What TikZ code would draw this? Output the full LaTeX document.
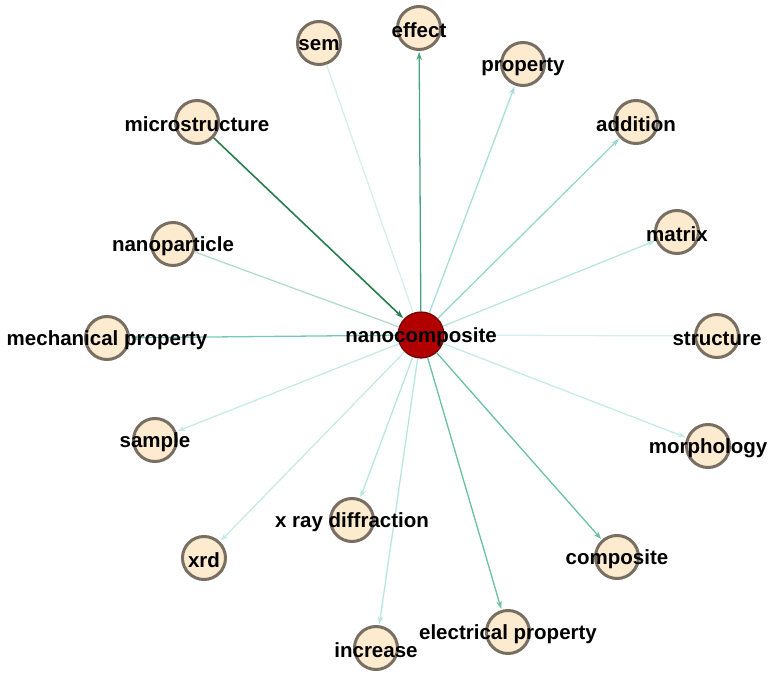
\documentclass[tikz,border=0pt]{standalone}
\usepackage{fontspec}
\setmainfont{Liberation Sans}
\usetikzlibrary{arrows.meta}
\definecolor{nodefill}{RGB}{253,235,208}
\definecolor{nodeline}{RGB}{120,110,98}
\definecolor{hubfill}{RGB}{178,0,0}
\definecolor{hubline}{RGB}{110,0,0}
\definecolor{eA}{RGB}{40,125,78}
\definecolor{eB}{RGB}{72,165,125}
\definecolor{eC}{RGB}{105,192,162}
\definecolor{eD}{RGB}{122,200,185}
\definecolor{eE}{RGB}{150,215,205}
\definecolor{eF}{RGB}{168,222,214}
\definecolor{eG}{RGB}{185,229,224}
\definecolor{eH}{RGB}{198,234,230}
\definecolor{eI}{RGB}{212,239,236}
\definecolor{eN}{RGB}{178,218,205}
\tikzset{
  vertex/.style={circle, draw=nodeline, line width=3pt, fill=nodefill, minimum size=43pt, inner sep=0pt},
  hub/.style={circle, draw=hubline, line width=1.2pt, fill=hubfill, minimum size=46pt, inner sep=0pt},
  lbl/.style={inner sep=0pt, yshift=-2.5pt, text=black, font=\fontsize{20.5}{22}\selectfont\bfseries},
  link/.style={line width=1.3pt, shorten >=1pt, -{Stealth[length=8pt,width=5.5pt]}},
  plain/.style={line width=1.3pt}
}
\begin{document}
\begin{tikzpicture}[x=1pt,y=-1pt]
\useasboundingbox (0,0) rectangle (774,676);
% nodes
\node[hub] (hub) at (421,335) {};
\node[vertex] (sem) at (319,43) {};
\node[vertex] (effect) at (419,28) {};
\node[vertex] (property) at (523,64) {};
\node[vertex] (addition) at (636,122) {};
\node[vertex] (matrix) at (677,232) {};
\node[vertex] (structure) at (717,336) {};
\node[vertex] (morphology) at (708,446) {};
\node[vertex] (composite) at (617,557) {};
\node[vertex] (electrical) at (508,632) {};
\node[vertex] (increase) at (376,648) {};
\node[vertex] (xray) at (352,520) {};
\node[vertex] (xrd) at (204,558) {};
\node[vertex] (sample) at (155,440) {};
\node[vertex] (mechanical) at (107,338) {};
\node[vertex] (nanoparticle) at (173,244) {};
\node[vertex] (microstructure) at (197,122) {};
% edges
\draw[link, eA, line width=1.6pt] (microstructure) -- (hub);
\draw[link, eB] (hub) -- (effect);
\draw[plain, eI] (hub) -- (sem);
\draw[link, eF] (hub) -- (property);
\draw[link, eE] (hub) -- (addition);
\draw[link, eG] (hub) -- (matrix);
\draw[plain, eI] (hub) -- (structure);
\draw[link, eH] (hub) -- (morphology);
\draw[link, eC] (hub) -- (composite);
\draw[link, eC] (hub) -- (electrical);
\draw[link, eG] (hub) -- (increase);
\draw[link, eG] (hub) -- (xray);
\draw[link, eH] (hub) -- (xrd);
\draw[link, eH] (hub) -- (sample);
\draw[link, eD] (hub) -- (mechanical);
\draw[plain, eN] (hub) -- (nanoparticle);
% labels
\node[lbl] (hub-l) at (hub) {nanocomposite};
\node[lbl] (sem-l) at (sem) {sem};
\node[lbl] (effect-l) at (effect) {effect};
\node[lbl] (property-l) at (property) {property};
\node[lbl] (addition-l) at (addition) {addition};
\node[lbl] (matrix-l) at (matrix) {matrix};
\node[lbl] (structure-l) at (structure) {structure};
\node[lbl] (morphology-l) at (morphology) {morphology};
\node[lbl] (composite-l) at (composite) {composite};
\node[lbl] (electrical-l) at (electrical) {electrical property};
\node[lbl] (increase-l) at (increase) {increase};
\node[lbl] (xray-l) at (xray) {x ray diffraction};
\node[lbl] (xrd-l) at (xrd) {xrd};
\node[lbl] (sample-l) at (sample) {sample};
\node[lbl] (mechanical-l) at (mechanical) {mechanical property};
\node[lbl] (nanoparticle-l) at (nanoparticle) {nanoparticle};
\node[lbl] (microstructure-l) at (microstructure) {microstructure};
\end{tikzpicture}
\end{document}
